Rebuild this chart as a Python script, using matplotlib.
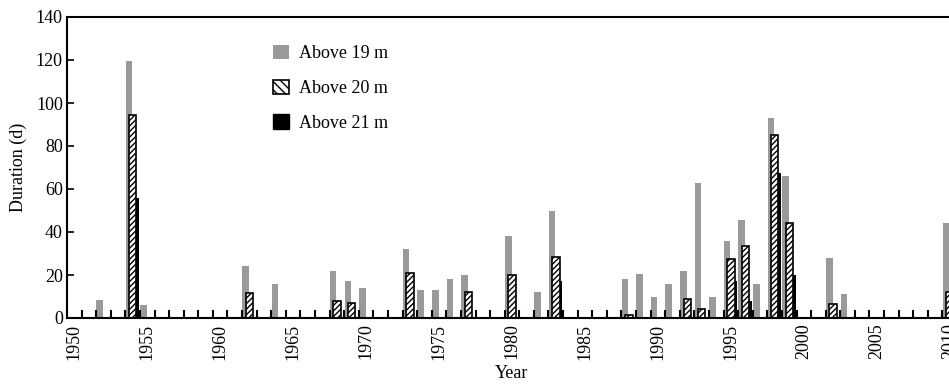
import numpy as np
import matplotlib
matplotlib.use("Agg")
import matplotlib.pyplot as plt
from matplotlib.patches import Patch

plt.rcParams['font.family'] = ['Liberation Serif', 'DejaVu Serif']
plt.rcParams['hatch.linewidth'] = 1.0

# durations above each water level (days)
years_19 = [1952, 1954, 1955, 1962, 1964, 1968, 1969, 1970, 1973, 1974, 1975, 1976,
            1977, 1980, 1982, 1983, 1988, 1989, 1990, 1991, 1992, 1993, 1994, 1995,
            1996, 1997, 1998, 1999, 2002, 2003, 2010]
dur_19 = [8.5, 119.5, 6, 24, 16, 22, 17, 14, 32, 13, 13, 18,
          20, 38, 12, 50, 18, 20.5, 10, 16, 22, 63, 10, 36,
          45.5, 16, 93, 66, 28, 11, 44]

years_20 = [1954, 1962, 1968, 1969, 1973, 1977, 1980, 1983, 1988, 1992, 1993, 1995,
            1996, 1998, 1999, 2002, 2010]
dur_20 = [94.5, 11.5, 8, 7, 21, 12, 20, 28.5, 1.5, 9, 4, 27.3,
          33.5, 85.3, 44.3, 6.4, 12]

years_21 = [1954, 1983, 1995, 1996, 1998, 1999]
dur_21 = [56, 17, 17, 8, 67.4, 20]

label_years = list(range(1950, 2011, 5))
first_year = 1950

fig = plt.figure(figsize=(9.49, 3.85), dpi=100)
ax = fig.add_axes([67 / 949, 67 / 385, 890 / 949, 301 / 385])

def pos(yrs):
    return np.array(yrs) - first_year + 0.5

ax.bar(pos(years_19) - 0.48, dur_19, width=0.45, align='edge',
       color='#9a9a9a', linewidth=0, zorder=1)
ax.bar(pos(years_21) + 0.07, dur_21, width=0.38, align='edge',
       color='black', linewidth=0, zorder=1.1)
ax.bar(pos(years_20) - 0.24, dur_20, width=0.5, align='edge',
       facecolor='white', edgecolor='black', hatch='//////', linewidth=1.2, zorder=1.2)

ax.set_xlim(0, 61)
ax.set_ylim(0, 140)

ax.set_xticks(pos(label_years))
ax.set_xticklabels([str(y) for y in label_years], rotation=90, fontsize=13)
ax.set_xticks(np.arange(0, 62), minor=True)
ax.tick_params(axis='x', which='major', length=0, pad=4)
ax.tick_params(axis='x', which='minor', direction='in', length=6, width=1.5)

ax.set_yticks(np.arange(0, 141, 20))
ax.tick_params(axis='y', direction='in', length=5, width=1.2, labelsize=13, pad=3)

for s in ax.spines.values():
    s.set_linewidth(1.5)
ax.spines['right'].set_visible(False)

ax.set_xlabel('Year', fontsize=13, labelpad=4)
ax.set_ylabel('Duration (d)', fontsize=13, labelpad=6)

handles = [
    Patch(facecolor='#9a9a9a', edgecolor='none'),
    Patch(facecolor='white', edgecolor='black', hatch='\\\\\\\\', linewidth=1.2),
    Patch(facecolor='black', edgecolor='black'),
]
ax.legend(handles, ['Above 19 m', 'Above 20 m', 'Above 21 m'],
          loc='upper left', bbox_to_anchor=((273 - 67) / 890, (318 - 45) / 301),
          frameon=False, fontsize=13, handlelength=0.9, handleheight=0.85,
          handletextpad=0.55, labelspacing=0.95, borderpad=0, borderaxespad=0)

fig.savefig('out.png', dpi=100)
